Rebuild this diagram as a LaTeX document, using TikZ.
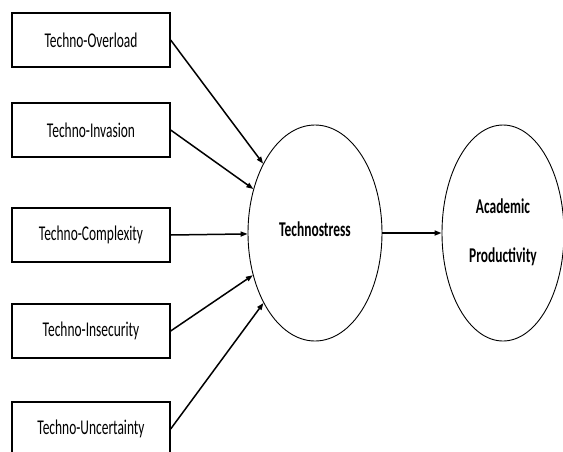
\documentclass[tikz,border=0pt]{standalone}
\usepackage{fontspec}
\usepackage{graphicx}
\setmainfont{Carlito}
\usetikzlibrary{arrows.meta,positioning,shapes.geometric}
\newcommand{\narrowtext}[1]{\scalebox{0.64}[1]{#1}}

\begin{document}
\begin{tikzpicture}[
  x=1pt, y=-1pt,
  >={Triangle[length=7pt,width=5pt]},
  factor/.style={rectangle, draw=black, line width=1.3pt, minimum width=158pt, minimum height=54pt, inner sep=0pt, font=\fontsize{21}{24}\selectfont},
  latent/.style={ellipse, draw=black, line width=0.9pt, inner sep=0pt, align=center, font=\bfseries\fontsize{21}{49}\selectfont},
  path/.style={->, draw=black, line width=1.5pt}
]
  \clip (0,0) rectangle (563,451);
  \fill[white] (0,0) rectangle (563,451);

  \node[factor] (overload) at (91,40) {\narrowtext{Techno-Overload}};
  \node[factor] (invasion) at (91,130) {\narrowtext{Techno-Invasion}};
  \node[factor] (complexity) at (91,235) {\narrowtext{Techno-Complexity}};
  \node[factor] (insecurity) at (91,331) {\narrowtext{Techno-Insecurity}};
  \node[factor] (uncertainty) at (91,429) {\narrowtext{Techno-Uncertainty}};

  \node[latent, minimum width=134pt, minimum height=216pt] (stress) at (315,233) {\raisebox{7pt}{\narrowtext{Technostress}}};
  \node[latent, minimum width=122pt, minimum height=216pt] (prod) at (503,233) {\raisebox{5pt}{\narrowtext{Academic}}\\\raisebox{5pt}{\narrowtext{Productivity}}};

  \draw[path] (overload.east) -- (stress);
  \draw[path] (invasion.east) -- (stress);
  \draw[path] (complexity.east) -- (stress);
  \draw[path] (insecurity.east) -- (stress);
  \draw[path] (uncertainty.east) -- (stress);
  \draw[path] (stress) -- (prod);
\end{tikzpicture}
\end{document}
